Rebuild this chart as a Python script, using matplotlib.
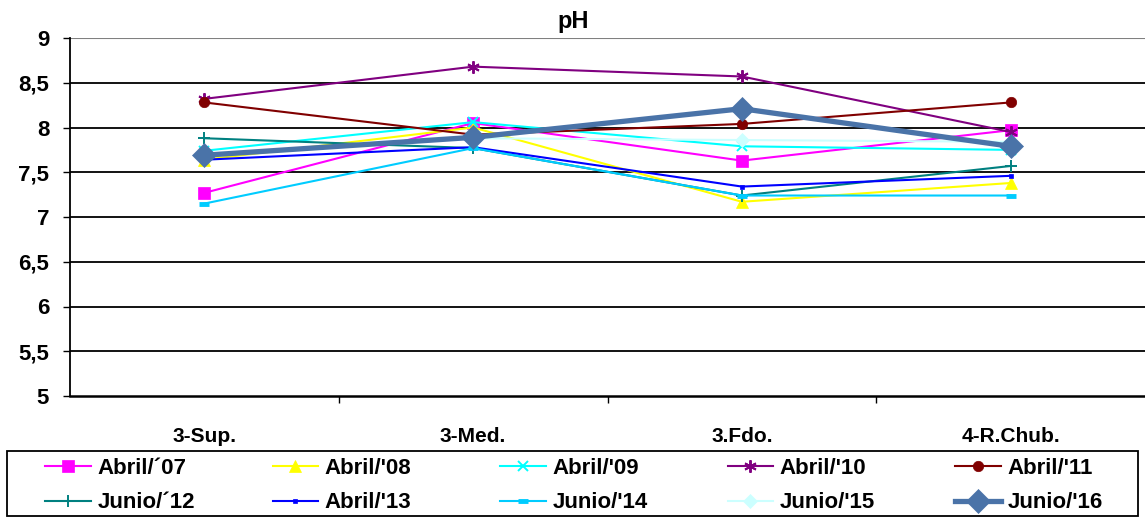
import matplotlib
matplotlib.use("Agg")
import matplotlib.pyplot as plt
from matplotlib.patches import Rectangle

plt.rcParams['font.family'] = ['Liberation Sans', 'DejaVu Sans']

sites = ["3-Sup.", "3-Med.", "3.Fdo.", "4-R.Chub."]
labels = ["Abril/\u00b407", "Abril/'08", "Abril/'09", "Abril/'10", "Abril/'11",
          "Junio/\u00b412", "Abril/'13", "Junio/'14", "Junio/'15", "Junio/'16"]

abr07 = [7.27, 8.05, 7.63, 7.97]
abr08 = [7.64, 8.00, 7.17, 7.38]
abr09 = [7.74, 8.06, 7.79, 7.75]
abr10 = [8.32, 8.68, 8.57, 7.95]
abr11 = [8.28, 7.92, 8.04, 8.28]
jun12 = [7.88, 7.77, 7.24, 7.57]
abr13 = [7.64, 7.78, 7.34, 7.46]
jun14 = [7.15, 7.77, 7.24, 7.24]
jun15 = [7.70, 7.88, 7.86, 7.84]
jun16 = [7.69, 7.89, 8.21, 7.79]

series = [abr07, abr08, abr09, abr10, abr11, jun12, abr13, jun14, jun15, jun16]
colors = ["#ff00ff", "#ffff00", "#00ffff", "#800080", "#800000",
          "#008080", "#0000ff", "#00ccff", "#ccffff", "#4a73a8"]
markers = ["s", "^", "x", (6, 2, 0), "o", "+", "s", "_", "D", "D"]
msizes = [8, 8, 7, 9, 7.5, 8, 3.5, 7, 7, 12]
mews = [0.5, 0.5, 1.4, 1.4, 0.5, 1.4, 0.5, 3.5, 0.5, 0.5]
lws = [1.5, 1.5, 1.5, 1.5, 1.5, 1.5, 1.5, 1.5, 1.5, 3.8]

W, H = 1145, 517
fig = plt.figure(figsize=(W / 100, H / 100), dpi=100)
ax = fig.add_axes([70 / W, 1 - 396 / H, 1075 / W, 358 / H])

x = list(range(len(sites)))
handles = []
for vals, lab, c, m, ms, mw, lw in zip(series, labels, colors, markers, msizes, mews, lws):
    h, = ax.plot(x, vals, color=c, marker=m, markersize=ms, lw=lw, label=lab,
                 markeredgewidth=mw, markeredgecolor=c)
    handles.append(h)

ax.set_xlim(-0.5, 3.5)
ax.set_ylim(5, 9)
ax.set_yticks([5, 5.5, 6, 6.5, 7, 7.5, 8, 8.5, 9])
ax.set_yticklabels(["5", "5,5", "6", "6,5", "7", "7,5", "8", "8,5", "9"],
                   fontsize=16, fontweight='bold')
ax.set_xticks(x)
ax.set_xticklabels(sites, fontsize=15, fontweight='bold')
ax.tick_params(axis='x', length=0, pad=22)
ax.set_xticks([0.5, 1.5, 2.5], minor=True)
ax.tick_params(axis='x', which='minor', length=5, width=1)
ax.tick_params(axis='y', length=5, width=1, pad=10)
for yv in [5.5, 6, 6.5, 7, 7.5, 8, 8.5]:
    ax.axhline(yv, color='black', lw=1.3, zorder=0)
ax.axhline(9, color='#808080', lw=1.5, zorder=0)
ax.spines['top'].set_visible(False)
ax.spines['right'].set_visible(False)
ax.spines['bottom'].set_linewidth(1.8)
ax.spines['left'].set_linewidth(1.3)

# title is centred on the whole chart, not on the plot area
fig.text(573 / W, 1 - 28 / H, "pH", ha='center', va='baseline',
         fontsize=17, fontweight='bold')

# legend: five columns of two rows, in a single frame
fig.add_artist(Rectangle((7 / W, 1 / H), 1131 / W, 65 / H,
                         transform=fig.transFigure, fill=False, ec='black', lw=1.3))
for col in range(5):
    pair = [col, col + 5]
    fig.legend([handles[i] for i in pair], [labels[i] for i in pair],
               loc='upper left', bbox_to_anchor=((45 + 227.5 * col) / W, 1 - 458 / H),
               frameon=False, prop={'size': 16, 'weight': 'bold'},
               handlelength=2.05, handletextpad=0.3, borderaxespad=0,
               borderpad=0, labelspacing=0.6)

fig.savefig("out.png", dpi=100)
